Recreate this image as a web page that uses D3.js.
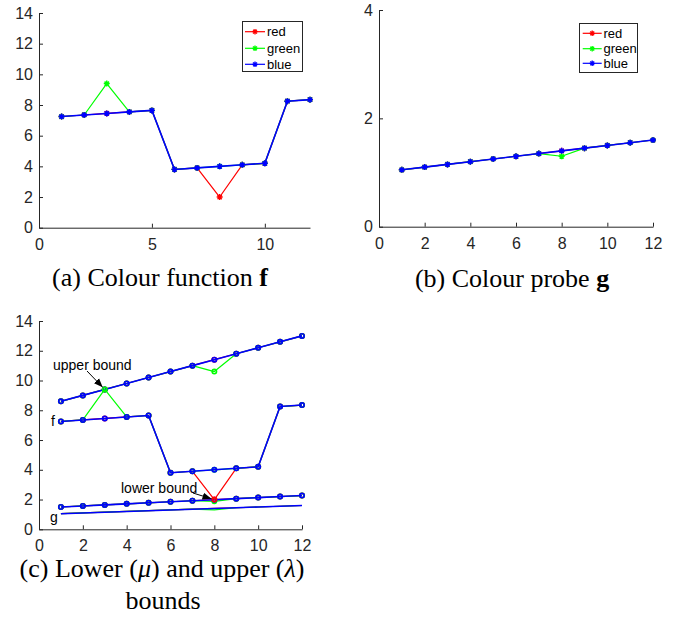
<!DOCTYPE html>
<html>
<head>
<meta charset="utf-8">
<script src="https://cdn.jsdelivr.net/npm/d3@7"></script>
<style>
  html, body { margin: 0; padding: 0; background: #fff; }
  svg { display: block; }
</style>
</head>
<body>
<svg id="chart" width="699" height="628"></svg>
<script>
// ---------------- data ----------------
const xs = [1, 2, 3, 4, 5, 6, 7, 8, 9, 10, 11, 12];

const fRed   = [7.25, 7.35, 7.45, 7.55, 7.65, 3.8, 3.9, 2.0, 4.1, 4.2, 8.25, 8.35];
const fGreen = [7.25, 7.35, 9.4, 7.55, 7.65, 3.8, 3.9, 4.0, 4.1, 4.2, 8.25, 8.35];
const fBlue  = [7.25, 7.35, 7.45, 7.55, 7.65, 3.8, 3.9, 4.0, 4.1, 4.2, 8.25, 8.35];

const gRed   = [1.05, 1.1, 1.15, 1.2, 1.25, 1.3, 1.35, 1.4, 1.45, 1.5, 1.55, 1.6];
const gGreen = [1.05, 1.1, 1.15, 1.2, 1.25, 1.3, 1.35, 1.3, 1.45, 1.5, 1.55, 1.6];
const gBlue  = [1.05, 1.1, 1.15, 1.2, 1.25, 1.3, 1.35, 1.4, 1.45, 1.5, 1.55, 1.6];

const upperRed   = [8.6, 9.0, 9.4, 9.8, 10.2, 10.6, 11.0, 11.4, 11.8, 12.2, 12.6, 13.0];
const upperGreen = [8.6, 9.0, 9.4, 9.8, 10.2, 10.6, 11.0, 10.6, 11.8, 12.2, 12.6, 13.0];
const upperBlue  = [8.6, 9.0, 9.4, 9.8, 10.2, 10.6, 11.0, 11.4, 11.8, 12.2, 12.6, 13.0];

const lowerRed   = [1.5, 1.57, 1.64, 1.71, 1.78, 1.85, 1.92, 1.99, 2.06, 2.13, 2.2, 2.27];
const lowerGreen = [1.5, 1.57, 1.64, 1.71, 1.78, 1.85, 1.92, 1.88, 2.06, 2.13, 2.2, 2.27];
const lowerBlue  = [1.5, 1.57, 1.64, 1.71, 1.78, 1.85, 1.92, 1.99, 2.06, 2.13, 2.2, 2.27];

const seriesNames = ["red", "green", "blue"];

const xTicksA = [0, 5, 10];
const yTicksA = [0, 2, 4, 6, 8, 10, 12, 14];
const xTicksB = [0, 2, 4, 6, 8, 10, 12];
const yTicksB = [0, 2, 4];
const xTicksC = [0, 2, 4, 6, 8, 10, 12];
const yTicksC = [0, 2, 4, 6, 8, 10, 12, 14];

// ---------------- styles ----------------
const COLORS = { red: "#ff0000", green: "#00ff00", blue: "#0000ff" };
const WIDTHS = { red: 1.2, green: 1.2, blue: 1.6 };
const AXIS = "#262626";
const SANS = "'Liberation Sans', Arial, Helvetica, sans-serif";
const SERIF = "'Liberation Serif', 'Times New Roman', serif";

const svg = d3.select("#chart");
svg.append("rect").attr("width", 699).attr("height", 628).attr("fill", "#fff");

const defs = svg.append("defs");
defs.append("marker").attr("id", "arrow")
  .attr("viewBox", "0 0 10 10").attr("refX", 10).attr("refY", 5)
  .attr("markerWidth", 9).attr("markerHeight", 9).attr("markerUnits", "userSpaceOnUse")
  .attr("orient", "auto")
  .append("path").attr("d", "M0,1 L10,5 L0,9 Z").attr("fill", "#000");

const asterisk = {
  draw(ctx, size) {
    const r = Math.sqrt(size) / 2, t = r * 0.7071;
    ctx.moveTo(-r, 0); ctx.lineTo(r, 0);
    ctx.moveTo(0, -r); ctx.lineTo(0, r);
    ctx.moveTo(-t, -t); ctx.lineTo(t, t);
    ctx.moveTo(-t, t); ctx.lineTo(t, -t);
  }
};

function makePanel(cfg) {
  const x = d3.scaleLinear().domain([0, 12]).range(cfg.xr);
  const y = d3.scaleLinear().domain(cfg.yd).range(cfg.yr);
  const g = svg.append("g");

  const ax = g.append("g").attr("transform", `translate(0,${cfg.yr[0]})`)
    .call(d3.axisBottom(x).tickValues(cfg.xt).tickFormat(d3.format("d"))
      .tickSizeInner(-4).tickSizeOuter(0).tickPadding(10.5));
  const ay = g.append("g").attr("transform", `translate(${cfg.xr[0]},0)`)
    .call(d3.axisLeft(y).tickValues(cfg.yt).tickFormat(d3.format("d"))
      .tickSizeInner(-4).tickSizeOuter(0).tickPadding(6));
  [ax, ay].forEach(a => {
    a.select(".domain").attr("stroke", AXIS).attr("stroke-width", 1);
    a.selectAll(".tick line").attr("stroke", AXIS).attr("stroke-width", 1);
    a.selectAll(".tick text").attr("fill", AXIS).attr("font-family", SANS).attr("font-size", 16);
  });
  return { g, x, y };
}

function drawSeries(p, values, name, markerType) {
  const color = COLORS[name];
  const line = d3.line().x((d, i) => p.x(xs[i])).y(d => p.y(d));
  p.g.append("path").attr("d", line(values)).attr("fill", "none")
    .attr("stroke", color).attr("stroke-width", WIDTHS[name]).attr("stroke-linejoin", "round");
  if (markerType === "star") {
    const sym = d3.symbol().type(asterisk).size(36);
    p.g.append("g").selectAll("path").data(values).join("path")
      .attr("transform", (d, i) => `translate(${p.x(xs[i])},${p.y(d)})`)
      .attr("d", sym).attr("fill", "none").attr("stroke", color).attr("stroke-width", 1.4);
  } else if (markerType === "circle") {
    p.g.append("g").selectAll("circle").data(values).join("circle")
      .attr("cx", (d, i) => p.x(xs[i])).attr("cy", d => p.y(d)).attr("r", 2.2)
      .attr("fill", "none").attr("stroke", color).attr("stroke-width", 1.6);
  }
}

function legend(p, box, rows, lineX, textX) {
  p.g.append("rect").attr("x", box[0]).attr("y", box[1])
    .attr("width", box[2]).attr("height", box[3])
    .attr("fill", "#fff").attr("stroke", AXIS).attr("stroke-width", 1);
  seriesNames.forEach((name, i) => {
    const yy = rows[i];
    p.g.append("line").attr("x1", lineX[0]).attr("x2", lineX[1]).attr("y1", yy).attr("y2", yy)
      .attr("stroke", COLORS[name]).attr("stroke-width", 1.2);
    p.g.append("path").attr("transform", `translate(${(lineX[0] + lineX[1]) / 2},${yy})`)
      .attr("d", d3.symbol().type(asterisk).size(30)).attr("fill", "none")
      .attr("stroke", COLORS[name]).attr("stroke-width", 1.3);
    p.g.append("text").attr("x", textX).attr("y", yy).attr("dy", "0.35em")
      .attr("font-family", SANS).attr("font-size", 13).attr("fill", "#000").text(name);
  });
}

// ---------------- panel (a) ----------------
const pA = makePanel({ xr: [39, 310], yr: [227.7, 13], yd: [0, 14], xt: xTicksA, yt: yTicksA });
drawSeries(pA, fRed, "red", "star");
drawSeries(pA, fGreen, "green", "star");
drawSeries(pA, fBlue, "blue", "star");
legend(pA, [242.5, 21.5, 60, 50], [31.7, 48.3, 64.3], [245, 265], 267);

// ---------------- panel (b) ----------------
const pB = makePanel({ xr: [379, 653], yr: [226.7, 10], yd: [0, 4], xt: xTicksB, yt: yTicksB });
drawSeries(pB, gRed, "red", "star");
drawSeries(pB, gGreen, "green", "star");
drawSeries(pB, gBlue, "blue", "star");
legend(pB, [579.5, 23.5, 58, 49], [33.3, 48.7, 63.3], [582.7, 601.7], 603.5);

// ---------------- panel (c) ----------------
const pC = makePanel({ xr: [39, 302], yr: [529.3, 321], yd: [0, 14], xt: xTicksC, yt: yTicksC });
drawSeries(pC, gRed, "red", null);
drawSeries(pC, gGreen, "green", null);
drawSeries(pC, gBlue, "blue", null);
drawSeries(pC, upperRed, "red", "circle");
drawSeries(pC, upperGreen, "green", "circle");
drawSeries(pC, upperBlue, "blue", "circle");
drawSeries(pC, lowerRed, "red", "circle");
drawSeries(pC, lowerGreen, "green", "circle");
drawSeries(pC, lowerBlue, "blue", "circle");
drawSeries(pC, fRed, "red", "circle");
drawSeries(pC, fGreen, "green", "circle");
drawSeries(pC, fBlue, "blue", "circle");

// annotations in (c)
function annot(p, label, tx, ty, from, toIdx, values) {
  p.g.append("text").attr("x", tx).attr("y", ty).attr("dy", "0.35em")
    .attr("font-family", SANS).attr("font-size", 14).attr("fill", "#000").text(label);
  const ex = p.x(xs[toIdx]), ey = p.y(values[toIdx]);
  const dx = ex - from[0], dy = ey - from[1], L = Math.hypot(dx, dy);
  p.g.append("line").attr("x1", from[0]).attr("y1", from[1])
    .attr("x2", ex - dx / L * 3).attr("y2", ey - dy / L * 3)
    .attr("stroke", "#000").attr("stroke-width", 1).attr("marker-end", "url(#arrow)");
}
annot(pC, "upper bound", 53, 365, [87, 371], 2, upperBlue);
annot(pC, "lower bound", 121, 488, [193, 493], 7, lowerRed);

pC.g.append("text").attr("x", pC.x(xs[0]) - 6).attr("y", pC.y(fBlue[0])).attr("dy", "0.35em")
  .attr("text-anchor", "end").attr("font-family", SANS).attr("font-size", 14).attr("fill", "#000").text("f");
pC.g.append("text").attr("x", pC.x(xs[0]) - 3).attr("y", pC.y(gBlue[0]) + 3).attr("dy", "0.35em")
  .attr("text-anchor", "end").attr("font-family", SANS).attr("font-size", 14).attr("fill", "#000").text("g");

// ---------------- captions ----------------
const capA = svg.append("text").attr("x", 160).attr("y", 286).attr("text-anchor", "middle")
  .attr("font-family", SERIF).attr("font-size", 26).attr("fill", "#000");
capA.append("tspan").text("(a) Colour function ");
capA.append("tspan").attr("font-weight", "bold").text("f");

const capB = svg.append("text").attr("x", 512).attr("y", 286.5).attr("text-anchor", "middle")
  .attr("font-family", SERIF).attr("font-size", 26).attr("fill", "#000");
capB.append("tspan").text("(b) Colour probe ");
capB.append("tspan").attr("font-weight", "bold").text("g");

const capC = svg.append("text").attr("x", 162).attr("y", 577).attr("text-anchor", "middle")
  .attr("font-family", SERIF).attr("font-size", 26).attr("fill", "#000");
capC.append("tspan").text("(c) Lower (");
capC.append("tspan").attr("font-style", "italic").text("μ");
capC.append("tspan").text(") and upper (");
capC.append("tspan").attr("font-style", "italic").text("λ");
capC.append("tspan").text(")");
svg.append("text").attr("x", 163).attr("y", 609).attr("text-anchor", "middle")
  .attr("font-family", SERIF).attr("font-size", 26).attr("fill", "#000").text("bounds");
</script>
</body>
</html>
